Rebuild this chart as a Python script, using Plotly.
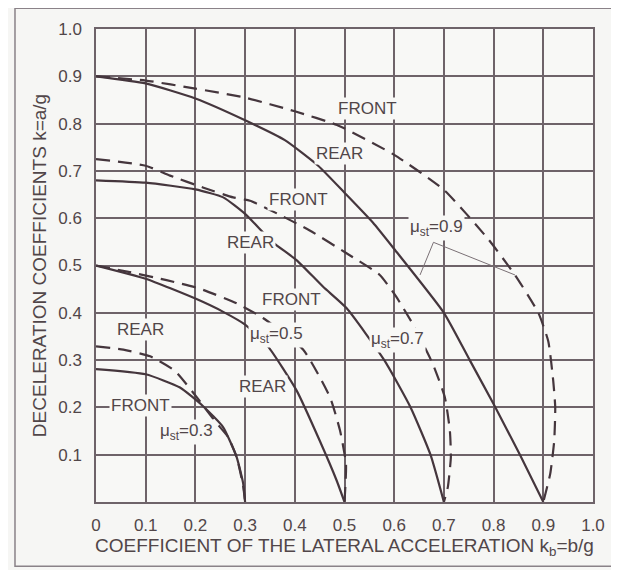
import plotly.graph_objects as go

# lateral acceleration k_b (x) and deceleration k (y)
rear_03_x = [0, 0.1, 0.169, 0.215, 0.256, 0.283, 0.296, 0.30]
rear_03_y = [0.281, 0.27, 0.242, 0.203, 0.158, 0.095, 0.04, 0]
front_03_x = [0, 0.055, 0.109, 0.159, 0.209, 0.240, 0.266, 0.283, 0.296, 0.30]
front_03_y = [0.329, 0.322, 0.308, 0.277, 0.213, 0.17, 0.137, 0.095, 0.034, 0]

rear_05_x = [0, 0.1, 0.2, 0.256, 0.30, 0.346, 0.404, 0.45, 0.484, 0.50]
rear_05_y = [0.50, 0.472, 0.43, 0.402, 0.375, 0.329, 0.235, 0.13, 0.046, 0]
front_05_x = [0, 0.068, 0.142, 0.209, 0.283, 0.336, 0.417, 0.471, 0.491, 0.503, 0.50]
front_05_y = [0.50, 0.486, 0.469, 0.451, 0.42, 0.389, 0.322, 0.221, 0.151, 0.08, 0]

rear_07_x = [0, 0.1, 0.2, 0.256, 0.30, 0.356, 0.404, 0.457, 0.504, 0.58, 0.633, 0.673, 0.70]
rear_07_y = [0.68, 0.675, 0.661, 0.644, 0.609, 0.549, 0.511, 0.455, 0.41, 0.30, 0.20, 0.10, 0]
front_07_x = [0, 0.1, 0.149, 0.215, 0.276, 0.31, 0.37, 0.43, 0.504, 0.571, 0.604, 0.638,
              0.678, 0.702, 0.712, 0.714, 0.708, 0.70]
front_07_y = [0.725, 0.711, 0.69, 0.665, 0.644, 0.637, 0.607, 0.574, 0.526, 0.48, 0.434, 0.375,
              0.291, 0.221, 0.151, 0.095, 0.032, 0]

rear_09_x = [0, 0.1, 0.2, 0.30, 0.38, 0.447, 0.50, 0.557, 0.60, 0.70, 0.752, 0.80, 0.853, 0.90]
rear_09_y = [0.90, 0.885, 0.853, 0.807, 0.765, 0.711, 0.654, 0.591, 0.535, 0.40, 0.30,
             0.207, 0.10, 0]
front_09_x = [0, 0.1, 0.2, 0.30, 0.40, 0.485, 0.60, 0.70, 0.789, 0.843, 0.89, 0.91, 0.92, 0.924,
              0.922, 0.914, 0.90]
front_09_y = [0.90, 0.891, 0.874, 0.855, 0.826, 0.797, 0.734, 0.66, 0.556, 0.48, 0.40, 0.34, 0.256,
              0.20, 0.13, 0.06, 0]

leader_x = [0.652, 0.679, 0.843]
leader_y = [0.48, 0.549, 0.48]

x_ticks = [0, 0.1, 0.2, 0.3, 0.4, 0.5, 0.6, 0.7, 0.8, 0.9, 1.0]
x_tick_text = ["0", "0.1", "0.2", "0.3", "0.4", "0.5", "0.6", "0.7", "0.8", "0.9", "1.0"]
y_ticks = [0.1, 0.2, 0.3, 0.4, 0.5, 0.6, 0.7, 0.8, 0.9, 1.0]
y_tick_text = ["0.1", "0.2", "0.3", "0.4", "0.5", "0.6", "0.7", "0.8", "0.9", "1.0"]

# curve labels: text, x, y
label_text = ["FRONT", "REAR", "FRONT", "REAR", "FRONT", "REAR", "REAR", "FRONT",
              "μ<sub>st</sub>=0.9", "μ<sub>st</sub>=0.7", "μ<sub>st</sub>=0.5", "μ<sub>st</sub>=0.3"]
label_x = [0.547, 0.489, 0.407, 0.31, 0.394, 0.089, 0.336, 0.089, 0.686, 0.607, 0.364, 0.182]
label_y = [0.832, 0.737, 0.64, 0.548, 0.428, 0.365, 0.245, 0.203, 0.58, 0.343, 0.354, 0.147]

ink = "#45363d"
grid = "#6e6369"
txt = "#514649"

fig = go.Figure()

curves = [
    (rear_03_x, rear_03_y, "solid"), (front_03_x, front_03_y, "dash"),
    (rear_05_x, rear_05_y, "solid"), (front_05_x, front_05_y, "dash"),
    (rear_07_x, rear_07_y, "solid"), (front_07_x, front_07_y, "dash"),
    (rear_09_x, rear_09_y, "solid"), (front_09_x, front_09_y, "dash"),
]
for cx, cy, style in curves:
    dash = "14px,8px" if style == "dash" else "solid"
    fig.add_trace(go.Scatter(x=cx, y=cy, mode="lines",
                             line=dict(color=ink, width=2.2, dash=dash, shape="spline", smoothing=0.5),
                             hoverinfo="skip"))

fig.add_trace(go.Scatter(x=leader_x, y=leader_y, mode="lines", line=dict(color="#7a7075", width=1), hoverinfo="skip"))

for t, lx, ly in zip(label_text, label_x, label_y):
    fig.add_annotation(x=lx, y=ly, text=t, showarrow=False, bgcolor="#f8f8f6", borderpad=1,
                       font=dict(family="Liberation Sans, Arial", size=17, color=txt))

# outer frame of the scanned figure
fig.add_shape(type="rect", xref="paper", yref="paper", x0=-0.163, x1=1.05, y0=-0.136, y1=1.044,
              line=dict(color="#8a8288", width=1.5), layer="below")

fig.update_layout(
    width=611, height=562,
    margin=dict(l=88, r=26, t=17, b=68),
    paper_bgcolor="#f6f6f4", plot_bgcolor="#f8f8f6",
    showlegend=False,
    font=dict(family="Liberation Sans, Arial", size=16, color=txt),
    xaxis=dict(range=[0, 1.0], tickvals=x_ticks, ticktext=x_tick_text, showgrid=True, gridcolor=grid, gridwidth=1.5,
               showline=True, linecolor=grid, linewidth=1.5, mirror=True, zeroline=False, ticks="",
               ticklabelstandoff=7,
               title=dict(text="COEFFICIENT OF THE LATERAL ACCELERATION k<sub>b</sub>=b/g", standoff=4),
               tickfont=dict(size=17)),
    yaxis=dict(range=[0, 1.0], tickvals=y_ticks, ticktext=y_tick_text, showgrid=True, gridcolor=grid, gridwidth=1.5,
               showline=True, linecolor=grid, linewidth=1.5, mirror=True, zeroline=False, ticks="",
               ticklabelstandoff=9,
               title=dict(text="DECELERATION COEFFICIENTS k=a/g", standoff=7),
               tickfont=dict(size=17)),
)

fig.write_html("out.html")
